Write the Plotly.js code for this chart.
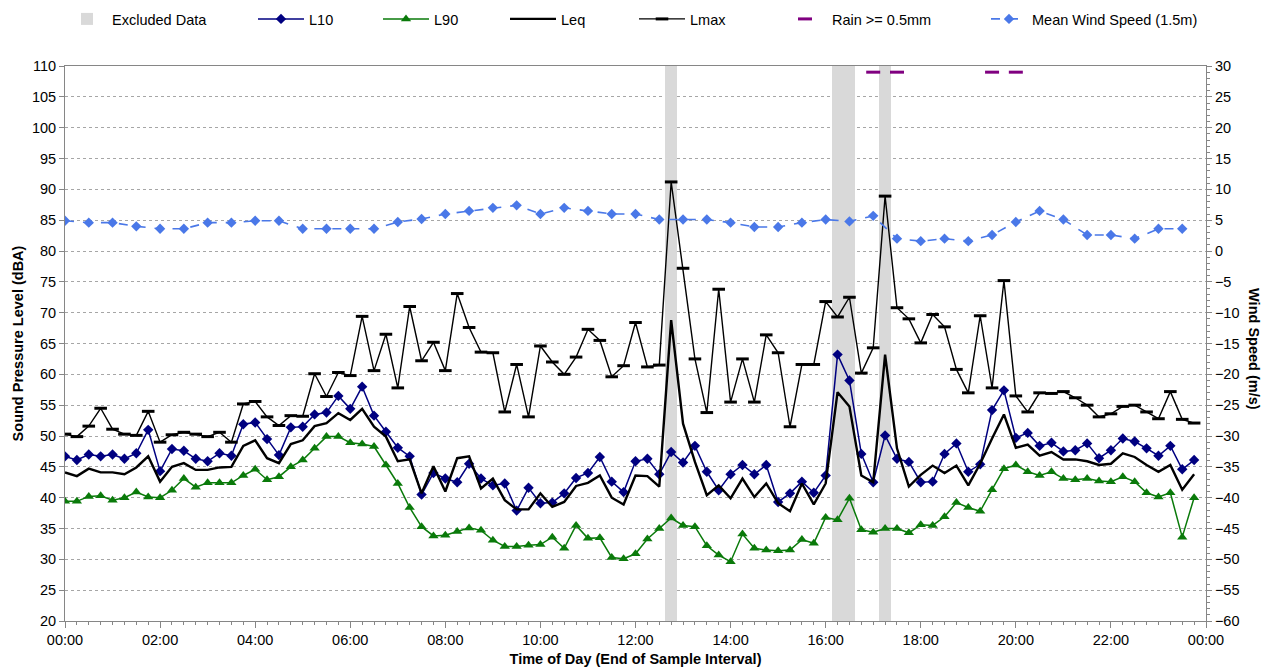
<!DOCTYPE html>
<html>
<head>
<meta charset="utf-8">
<script src="https://cdn.plot.ly/plotly-3.0.1.min.js"></script>
<style>html,body{margin:0;padding:0;background:#fff;}#chart{width:1266px;height:672px;}</style>
</head>
<body>
<div id="chart"></div>
<script>
// 15-minute sample intervals (end of interval), 00:00 .. 23:45
const DAY = '2024-01-01';
function clock(minutes){
  const h = Math.floor(minutes/60), m = minutes%60;
  return DAY + ' ' + String(h).padStart(2,'0') + ':' + String(m).padStart(2,'0');
}
const sampleTimes = Array.from({length:96}, (_, i) => clock(i*15));
const windTimes = Array.from({length:48}, (_, i) => clock(i*30));

const L10 = [46.7,46.1,47.0,46.7,47.0,46.3,47.2,51.0,44.3,47.9,
  47.6,46.3,45.9,47.2,46.8,51.9,52.2,49.5,46.9,51.4,
  51.5,53.5,53.8,56.5,54.4,58.0,53.3,50.7,48.1,46.7,
  40.5,44.0,43.1,42.5,45.5,43.1,42.0,42.3,37.9,41.6,
  39.1,39.2,40.7,43.2,44.0,46.6,42.6,40.9,45.9,46.3,
  43.8,47.4,45.7,48.4,44.2,41.2,43.8,45.3,43.8,45.3,
  39.3,40.7,42.6,40.8,43.6,63.2,59.0,47.1,42.5,50.1,
  46.3,45.8,42.5,42.6,47.1,48.8,44.2,45.4,54.2,57.4,
  49.7,50.5,48.4,48.9,47.5,47.7,48.8,46.4,47.7,49.6,
  49.1,48.0,46.8,48.4,44.6,46.1];
const L90 = [39.4,39.4,40.2,40.3,39.6,40.0,40.9,40.1,40.0,41.2,
  43.1,41.7,42.4,42.4,42.4,43.6,44.6,42.9,43.4,45.0,
  46.1,48.0,49.9,49.9,48.9,48.7,48.3,45.3,42.3,38.4,
  35.3,33.8,33.9,34.5,35.1,34.7,33.1,32.1,32.1,32.3,
  32.4,33.6,31.8,35.5,33.4,33.5,30.3,30.1,30.9,33.3,
  35.0,36.7,35.5,35.3,32.2,30.7,29.6,34.1,31.8,31.5,
  31.4,31.5,33.2,32.6,36.8,36.4,39.9,34.8,34.4,35.0,
  35.0,34.3,35.6,35.5,36.9,39.2,38.4,37.8,41.3,44.7,
  45.3,44.2,43.6,44.2,43.1,42.9,43.1,42.7,42.6,43.4,
  42.6,40.8,40.1,40.8,33.6,40.0];
const Leq = [44.1,43.5,44.7,44.1,44.1,43.8,44.9,46.7,42.6,45.0,
  45.6,44.5,44.5,44.9,45.0,48.4,49.3,46.4,45.6,48.7,
  49.3,51.6,52.1,53.7,52.6,54.4,51.5,49.9,45.9,46.2,
  40.7,45.1,41.0,46.4,46.7,41.5,43.1,39.6,38.1,38.1,
  40.7,38.5,39.3,41.9,42.4,43.6,40.0,38.9,43.6,43.5,
  41.8,68.8,52.0,45.8,40.4,42.0,39.9,43.1,40.1,42.3,
  39.1,37.8,42.3,38.9,42.3,57.1,54.8,43.6,42.5,63.2,
  48.0,41.8,43.7,45.2,44.0,45.2,42.0,45.5,49.6,53.5,
  48.1,48.6,46.8,47.4,46.2,46.2,45.9,45.3,45.5,47.2,
  46.6,45.3,44.2,45.3,41.3,43.8];
const Lmax = [50.3,49.9,51.6,54.5,51.1,50.3,50.1,54.0,49.0,50.2,
  50.6,50.3,49.9,50.6,49.0,55.2,55.6,53.1,51.7,53.3,
  53.2,60.1,56.4,60.3,59.8,69.4,60.6,66.5,57.8,71.0,
  62.2,65.2,60.6,73.1,67.6,63.6,63.5,53.9,61.6,53.1,
  64.6,62.0,60.0,62.8,67.3,65.5,59.6,61.4,68.4,61.2,
  61.5,91.2,77.2,62.5,53.8,73.8,55.5,62.5,55.5,66.4,
  63.5,51.5,61.6,61.6,71.8,69.3,72.5,60.2,64.3,88.9,
  70.8,69.0,65.1,69.7,67.7,60.8,57.0,69.5,57.8,75.2,
  56.5,53.9,57.0,56.9,57.2,56.2,55.0,53.1,53.6,54.8,
  55.0,53.9,52.8,57.2,52.7,52.1];
const windSpeed = [4.9,4.6,4.6,4.0,3.6,3.6,4.6,4.6,4.9,4.9,
  3.6,3.6,3.6,3.6,4.7,5.2,6.0,6.5,7.0,7.4,
  6.0,7.0,6.5,6.0,6.0,5.1,5.1,5.1,4.6,3.9,
  3.9,4.6,5.1,4.8,5.7,2.0,1.6,2.0,1.6,2.6,
  4.7,6.5,5.1,2.6,2.6,2.0,3.6,3.6];
const rainTimes = ['17:00','17:30','19:30','20:00'].map(t => DAY + ' ' + t);
const rainLevel = [29, 29, 29, 29];           // flag drawn near top of wind axis
const excludedTimes = ['12:45','16:15','16:30','17:15'].map(t => DAY + ' ' + t);
const excludedTop = [110, 110, 110, 110];

const FONT = '"Liberation Sans", Arial, sans-serif';
const AXC = '#868686';

const traces = [
  {type:'bar', name:'Excluded Data', x:excludedTimes, y:excludedTop, width:900000,
   marker:{color:'#d9d9d9', line:{width:0}}, legend:'legend', hoverinfo:'skip'},
  {type:'scatter', mode:'lines+markers', name:'L10', x:sampleTimes, y:L10,
   line:{color:'#000080', width:1.5}, marker:{symbol:'diamond', size:8, color:'#000080'}, legend:'legend2'},
  {type:'scatter', mode:'lines+markers', name:'L90', x:sampleTimes, y:L90,
   line:{color:'#0a7a0a', width:1.5}, marker:{symbol:'triangle-up', size:9, color:'#0a7a0a'}, legend:'legend3'},
  {type:'scatter', mode:'lines', name:'Leq', x:sampleTimes, y:Leq,
   line:{color:'#000000', width:2.4}, legend:'legend4'},
  {type:'scatter', mode:'lines+markers', name:'Lmax', x:sampleTimes, y:Lmax,
   line:{color:'#000000', width:1.4},
   marker:{symbol:'line-ew', size:9, color:'#000000', line:{color:'#000000', width:3}}, legend:'legend5'},
  {type:'scatter', mode:'markers', name:'Rain >= 0.5mm', x:rainTimes, y:rainLevel, yaxis:'y2',
   marker:{symbol:'line-ew', size:10, color:'#800080', line:{color:'#800080', width:3}}, legend:'legend6'},
  {type:'scatter', mode:'lines+markers', name:'Mean Wind Speed (1.5m)', x:windTimes, y:windSpeed, yaxis:'y2',
   line:{color:'#4a78e8', width:1.6, dash:'dash'}, marker:{symbol:'diamond', size:8, color:'#4a78e8'}, legend:'legend7'}
];

const PL = 65, PW = 1141;
function lx(px){ return (px - PL)/PW; }
const LY = 1.0847;
function leg(px, iw){
  return {x:lx(px), y:LY, xanchor:'left', yanchor:'middle', orientation:'h', itemwidth:iw,
    bgcolor:'rgba(0,0,0,0)', font:{family:FONT, size:14.5, color:'#000'}};
}

const layout = {
  width:1266, height:672,
  margin:{l:65, r:60, t:66, b:51, autoexpand:false},
  paper_bgcolor:'#ffffff', plot_bgcolor:'#ffffff',
  font:{family:FONT, size:14.5, color:'#000'},
  showlegend:true,
  bargap:0,
  legend: leg(62, 40),
  legend2: leg(253, 46),
  legend3: leg(378, 46),
  legend4: leg(505, 46),
  legend5: leg(634, 46),
  legend6: leg(778, 44),
  legend7: leg(986, 36),
  xaxis:{
    type:'date', range:[DAY + ' 00:00', '2024-01-02 00:00'],
    tick0:DAY + ' 00:00', dtick:7200000, tickformat:'%H:%M',
    ticks:'outside', ticklen:6, tickcolor:AXC, tickwidth:1,
    minor:{dtick:900000, ticks:'outside', ticklen:3, tickcolor:AXC, showgrid:false},
    showline:true, linecolor:AXC, linewidth:1, mirror:true,
    showgrid:false, zeroline:false,
    tickfont:{family:FONT, size:14.5, color:'#000'},
    title:{text:'<b>Time of Day (End of Sample Interval)</b>', font:{family:FONT, size:14.5, color:'#000'}, standoff:6}
  },
  yaxis:{
    range:[20,110], dtick:5, tick0:20,
    ticks:'outside', ticklen:5, tickcolor:AXC,
    showline:true, linecolor:AXC, linewidth:1,
    showgrid:true, gridcolor:'#a6a6a6', griddash:'dot', gridwidth:1,
    zeroline:false,
    tickfont:{family:FONT, size:14.5, color:'#000'},
    title:{text:'<b>Sound Pressure Level (dBA)</b>', font:{family:FONT, size:14.5, color:'#000'}, standoff:4}
  },
  yaxis2:{
    overlaying:'y', side:'right', anchor:'x',
    range:[-60,30], dtick:5, tick0:-60,
    ticks:'outside', ticklen:5, tickcolor:AXC,
    minor:{dtick:1, ticks:'outside', ticklen:3, tickcolor:AXC, showgrid:false},
    showline:true, linecolor:AXC, linewidth:1,
    showgrid:false, zeroline:false,
    tickfont:{family:FONT, size:14.5, color:'#000'}
  },
  annotations:[
    {text:'<b>Wind Speed (m/s)</b>', xref:'paper', yref:'paper', x:lx(1254), y:0.49,
     xanchor:'center', yanchor:'middle', textangle:90, showarrow:false,
     font:{family:FONT, size:14.5, color:'#000'}}
  ]
};

Plotly.newPlot('chart', traces, layout, {displayModeBar:false, staticPlot:true});
</script>
</body>
</html>
